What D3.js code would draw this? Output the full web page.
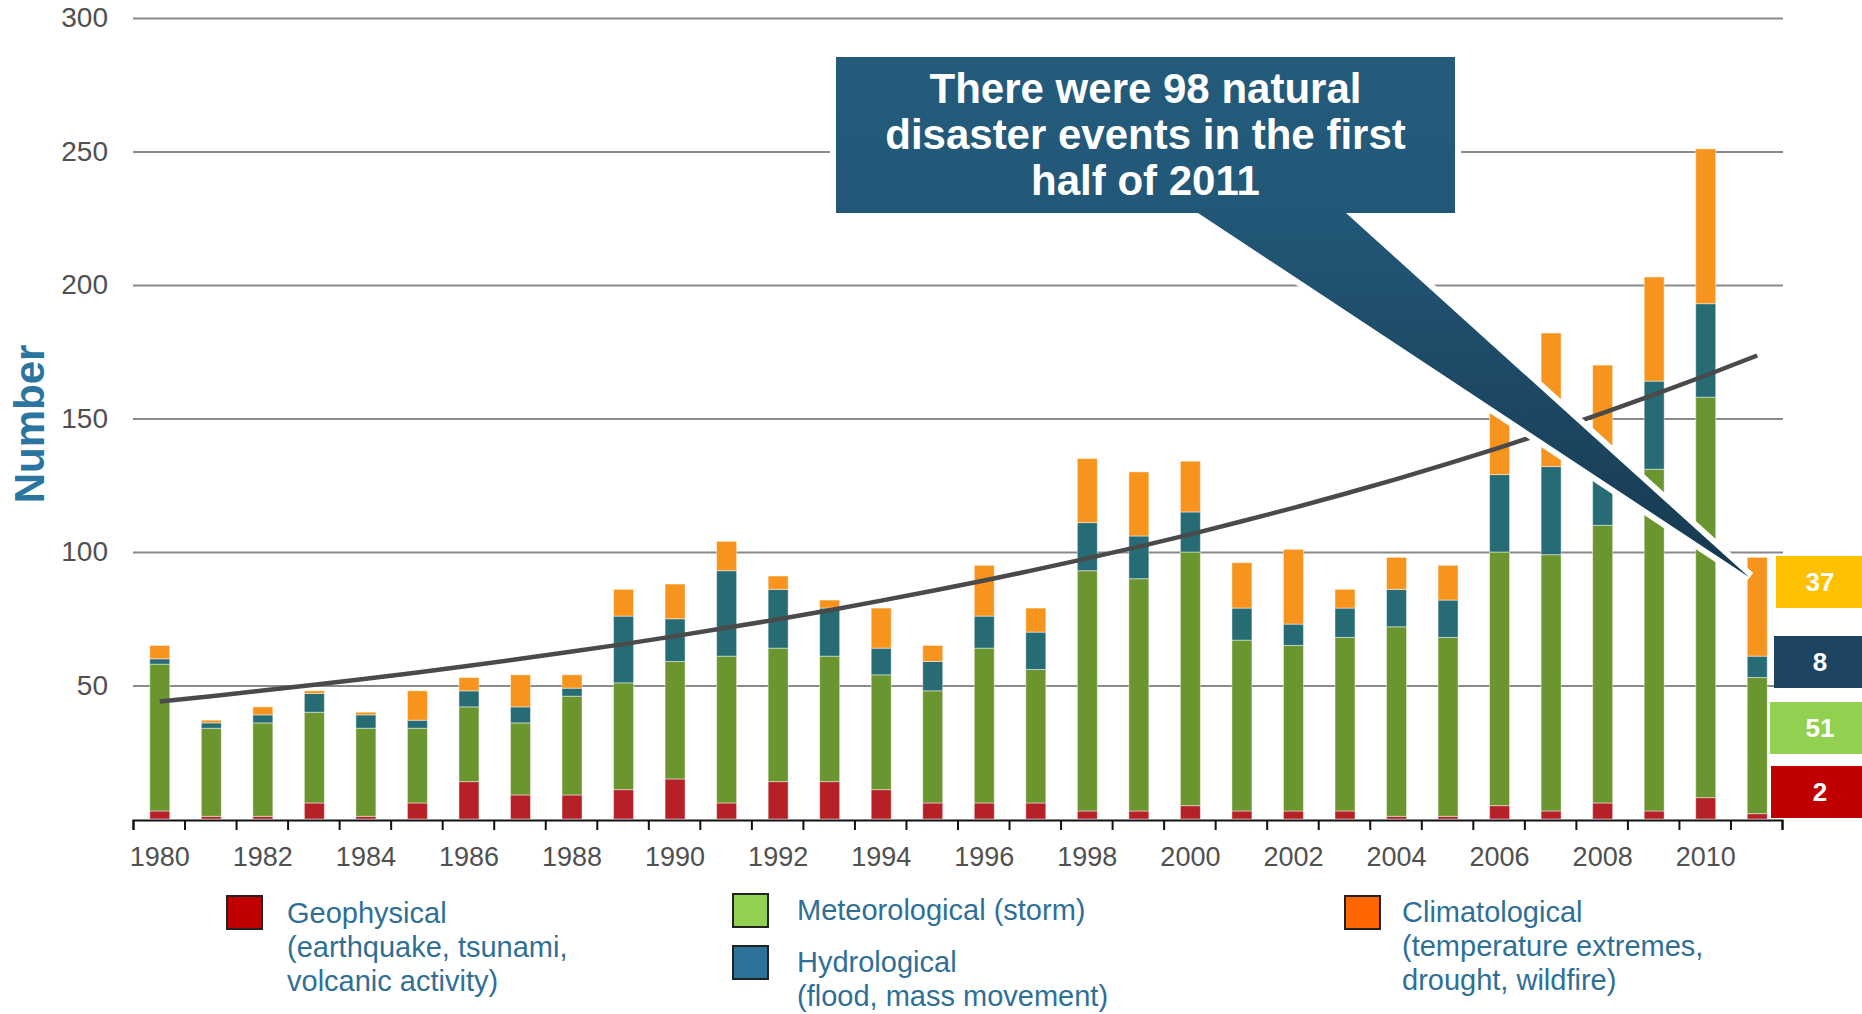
<!DOCTYPE html>
<html>
<head>
<meta charset="utf-8">
<script src="https://cdn.jsdelivr.net/npm/d3@7"></script>
<style>
    body { margin: 0; background: #fff; }
    text { font-family: "Liberation Sans", Arial, sans-serif; }
</style>
</head>
<body>
<script>
// natural disaster events per year, 2011 = first half only
let years = [1980, 1981, 1982, 1983, 1984, 1985, 1986, 1987, 1988, 1989,
             1990, 1991, 1992, 1993, 1994, 1995, 1996, 1997, 1998, 1999,
             2000, 2001, 2002, 2003, 2004, 2005, 2006, 2007, 2008, 2009,
             2010, 2011]

let geophysical    = [3, 1, 1, 6, 1, 6, 14, 9, 9, 11, 15, 6, 14, 14, 11, 6, 6, 6, 3, 3, 5, 3, 3, 3, 1, 1, 5, 3, 6, 3, 8, 2]
let meteorological = [55, 33, 35, 34, 33, 28, 28, 27, 37, 40, 44, 55, 50, 47, 43, 42, 58, 50, 90, 87, 95, 64, 62, 65, 71, 67, 95, 96, 104, 128, 150, 51]
let hydrological   = [2, 2, 3, 7, 5, 3, 6, 6, 3, 25, 16, 32, 22, 18, 10, 11, 12, 14, 18, 16, 15, 12, 8, 11, 14, 14, 29, 33, 27, 33, 35, 8]
let climatological = [5, 1, 3, 1, 1, 11, 5, 12, 5, 10, 13, 11, 5, 3, 15, 6, 19, 9, 24, 24, 19, 17, 28, 7, 12, 13, 36, 50, 33, 39, 58, 37]

// trend curve, one value per year
let trend = [44, 46, 48.1, 50.3, 52.5, 54.9, 57.4, 60, 62.7, 65.5,
             68.5, 71.6, 74.8, 78.2, 81.8, 85.5, 89.3, 93.4, 97.6, 102,
             106.6, 111.5, 116.5, 121.8, 127.3, 133.1, 139.1, 145.4, 152, 158.9,
             166.1, 173.6]

let y_ticks = [50, 100, 150, 200, 250, 300]
let x_label_years = [1980, 1982, 1984, 1986, 1988, 1990, 1992, 1994, 1996, 1998, 2000, 2002, 2004, 2006, 2008, 2010]

let series_keys = ['geophysical', 'meteorological', 'hydrological', 'climatological']

let bar_colors = {
    'geophysical': '#b52126',
    'meteorological': '#6b962f',
    'hydrological': '#276b75',
    'climatological': '#f7941e',
}
let legend_colors = {
    'geophysical': '#c00000',
    'meteorological': '#92d050',
    'hydrological': '#2c7399',
    'climatological': '#ff6600',
}
let value_box_colors = {
    'geophysical': '#c00000',
    'meteorological': '#92d050',
    'hydrological': '#1d4460',
    'climatological': '#ffc000',
}
let legend_labels = {
    'geophysical': ['Geophysical', '(earthquake, tsunami,', 'volcanic activity)'],
    'meteorological': ['Meteorological (storm)'],
    'hydrological': ['Hydrological', '(flood, mass movement)'],
    'climatological': ['Climatological', '(temperature extremes,', 'drought, wildfire)'],
}
let callout_lines = ['There were 98 natural', 'disaster events in the first', 'half of 2011']
let y_title = 'Number'

// ---- layout ----
let width = 1862, height = 1014
let plot = {left: 133, right: 1782, top: 18, bottom: 819}
let bar_w = 20

let svg = d3.select('body').append('svg')
    .attr('width', width)
    .attr('height', height)

let x = d3.scaleBand().domain(years).range([plot.left, plot.right])
let y = d3.scaleLinear().domain([0, 300]).range([plot.bottom, plot.top])
let bar_x = d => x(d) + x.bandwidth() / 2 - bar_w / 2 + 1

// gridlines and y labels
let y_axis = svg.append('g')
    .attr('transform', `translate(${plot.left},0)`)
    .call(d3.axisLeft(y).tickValues(y_ticks).tickSize(-(plot.right + 1 - plot.left)).tickPadding(25))
y_axis.select('.domain').remove()
y_axis.selectAll('line').attr('stroke', '#8a8a8a').attr('stroke-width', 2)
y_axis.selectAll('text').attr('font-size', 28).attr('fill', '#505050')

// stacked bars
let table = years.map((yr, i) => ({
    year: yr,
    geophysical: geophysical[i],
    meteorological: meteorological[i],
    hydrological: hydrological[i],
    climatological: climatological[i],
}))
let stacked = d3.stack().keys(series_keys)(table)

svg.append('g')
    .selectAll('g')
    .data(stacked)
    .join('g')
    .attr('fill', d => bar_colors[d.key])
    .selectAll('rect')
    .data(d => d)
    .join('rect')
    .attr('x', d => bar_x(d.data.year))
    .attr('y', d => y(d[1]))
    .attr('width', bar_w)
    .attr('height', d => y(d[0]) - y(d[1]))
    .attr('stroke', 'rgba(255,255,255,0.45)')
    .attr('stroke-width', 1)

// trend line
svg.append('path')
    .datum(trend)
    .attr('d', d3.line().x((d, i) => x(years[i]) + x.bandwidth() / 2 + 1).y(d => y(d)))
    .attr('fill', 'none')
    .attr('stroke', '#4a4a4c')
    .attr('stroke-width', 4.5)

// x axis: ticks between the years
let x_edges = d3.scaleLinear().domain([years[0] - 0.5, years[years.length - 1] + 0.5]).range([plot.left, plot.right])
svg.append('g')
    .attr('transform', `translate(0,${plot.bottom + 1})`)
    .call(d3.axisBottom(x_edges).tickValues(years.map(d => d - 0.5).concat([2011.5])).tickFormat('').tickSize(10).tickSizeOuter(10))
    .call(g => g.selectAll('line, path').attr('stroke', '#111').attr('stroke-width', 2))

let x_labels = svg.append('g')
    .attr('transform', `translate(1,${plot.bottom + 1})`)
    .call(d3.axisBottom(x).tickValues(x_label_years).tickSize(0).tickPadding(27))
x_labels.select('.domain').remove()
x_labels.selectAll('text').attr('font-size', 27).attr('fill', '#505050')

// y title
svg.append('text')
    .attr('transform', 'translate(44, 424) rotate(-90)')
    .attr('text-anchor', 'middle')
    .attr('font-size', 42)
    .attr('font-weight', 'bold')
    .attr('fill', '#2b75a0')
    .text(y_title)

// callout box with pointer to the 2011 bar
let last = years.length - 1
let total_2011 = geophysical[last] + meteorological[last] + hydrological[last] + climatological[last]
let box = {left: 836, right: 1455, top: 57, bottom: 213, base_l: 1198, base_r: 1346}
let tip = [bar_x(years[last]) + 2, y(total_2011) + 20]

let grad = svg.append('defs').append('linearGradient')
    .attr('id', 'callout_grad')
    .attr('gradientUnits', 'userSpaceOnUse')
    .attr('x1', 0).attr('y1', box.top)
    .attr('x2', 0).attr('y2', tip[1])
grad.append('stop').attr('offset', 0).attr('stop-color', '#245b7b')
grad.append('stop').attr('offset', 0.3).attr('stop-color', '#225777')
grad.append('stop').attr('offset', 1).attr('stop-color', '#173950')

let callout_path = d3.path()
callout_path.moveTo(box.left, box.top)
callout_path.lineTo(box.right, box.top)
callout_path.lineTo(box.right, box.bottom)
callout_path.lineTo(box.base_r, box.bottom)
callout_path.lineTo(tip[0], tip[1])
callout_path.lineTo(box.base_l, box.bottom)
callout_path.lineTo(box.left, box.bottom)
callout_path.closePath()

svg.append('path')
    .attr('d', callout_path.toString())
    .attr('fill', 'url(#callout_grad)')
    .attr('stroke', '#fff')
    .attr('stroke-width', 12)
    .attr('stroke-miterlimit', 6)
    .style('paint-order', 'stroke')

svg.append('g')
    .selectAll('text')
    .data(callout_lines)
    .join('text')
    .attr('x', (box.left + box.right) / 2)
    .attr('y', (d, i) => 103 + i * 46)
    .attr('text-anchor', 'middle')
    .attr('font-size', 42)
    .attr('font-weight', 'bold')
    .attr('fill', '#fff')
    .text(d => d)

// 2011 value boxes on the right
let value_boxes = [
    {key: 'climatological', top: 556, left: 1776, value: climatological[last]},
    {key: 'hydrological', top: 636, left: 1774, value: hydrological[last]},
    {key: 'meteorological', top: 702, left: 1770, value: meteorological[last]},
    {key: 'geophysical', top: 766, left: 1771, value: geophysical[last]},
]
let vb = svg.append('g')
    .selectAll('g')
    .data(value_boxes)
    .join('g')
vb.append('rect')
    .attr('x', d => d.left)
    .attr('y', d => d.top)
    .attr('width', d => width - d.left)
    .attr('height', 52)
    .attr('fill', d => value_box_colors[d.key])
vb.append('text')
    .attr('x', 1820)
    .attr('y', d => d.top + 35)
    .attr('text-anchor', 'middle')
    .attr('font-size', 26)
    .attr('font-weight', 'bold')
    .attr('fill', '#fff')
    .text(d => d.value)

// legend
let legend_items = [
    {key: 'geophysical', sq_x: 227, sq_y: 896, text_x: 287, base: 923},
    {key: 'meteorological', sq_x: 733, sq_y: 894, text_x: 797, base: 920},
    {key: 'hydrological', sq_x: 733, sq_y: 946, text_x: 797, base: 972},
    {key: 'climatological', sq_x: 1345, sq_y: 896, text_x: 1402, base: 922},
]
let legend = svg.append('g')
    .selectAll('g')
    .data(legend_items)
    .join('g')
legend.append('rect')
    .attr('x', d => d.sq_x)
    .attr('y', d => d.sq_y)
    .attr('width', 35)
    .attr('height', 33)
    .attr('fill', d => legend_colors[d.key])
    .attr('stroke', '#222')
    .attr('stroke-width', 2)
legend.append('text')
    .attr('font-size', 29)
    .attr('fill', '#2f6f96')
    .selectAll('tspan')
    .data(d => legend_labels[d.key].map((t, i) => ({t: t, x: d.text_x, y: d.base + i * 34})))
    .join('tspan')
    .attr('x', d => d.x)
    .attr('y', d => d.y)
    .text(d => d.t)
</script>
</body>
</html>
